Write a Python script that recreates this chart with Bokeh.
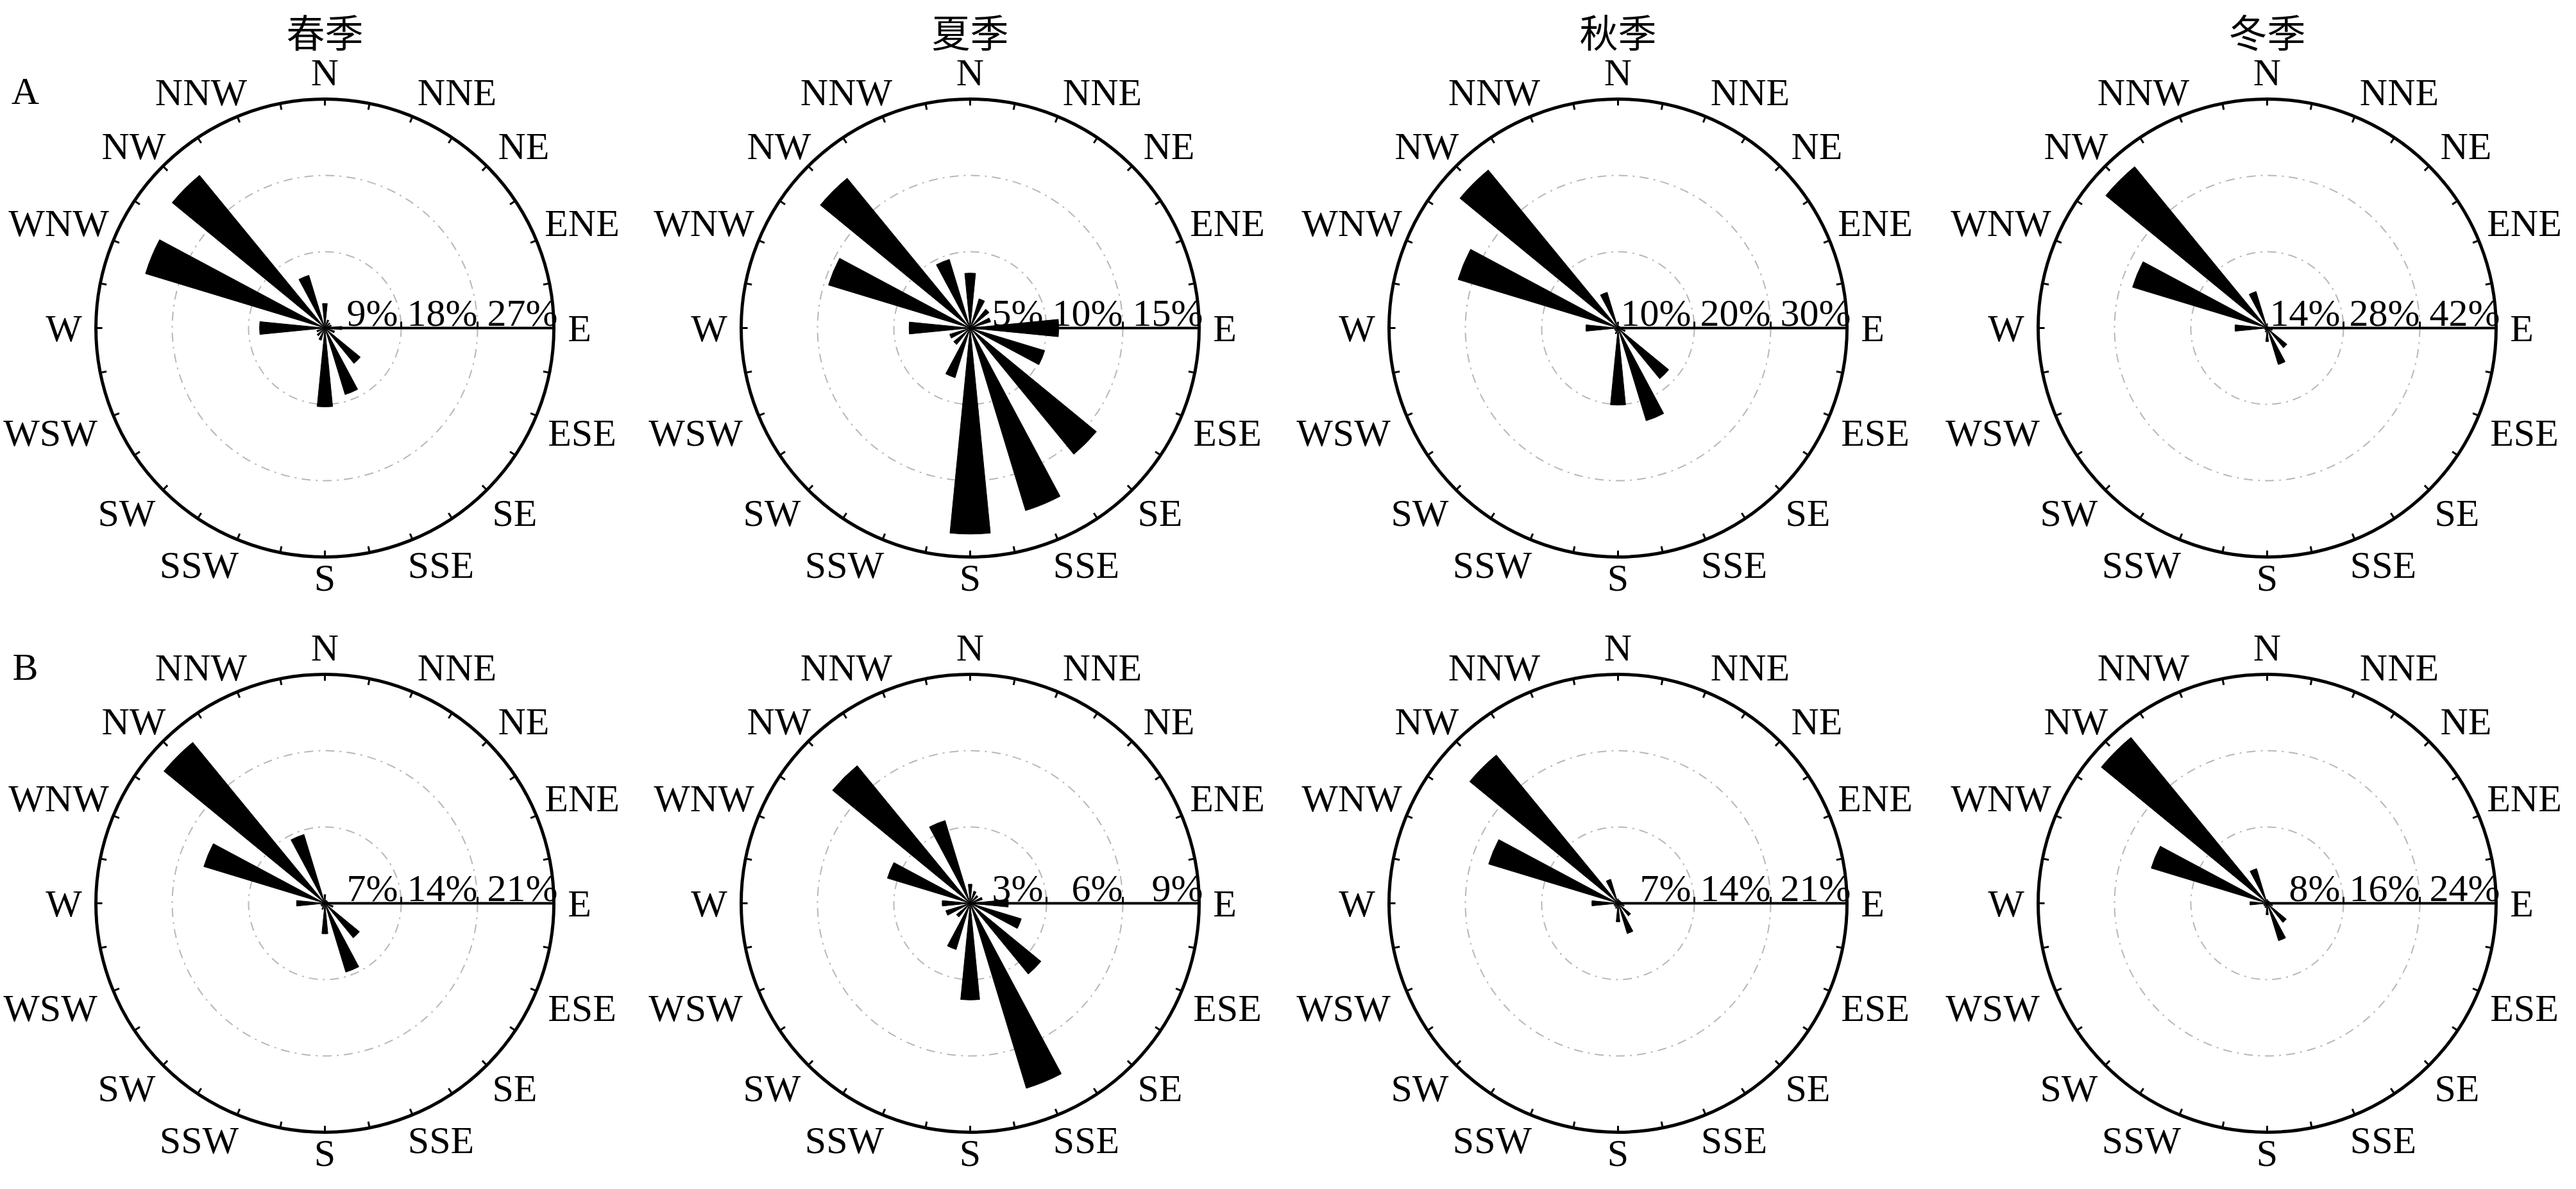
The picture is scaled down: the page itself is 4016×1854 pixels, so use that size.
import math
from bokeh.plotting import figure
from bokeh.models import Range1d
from bokeh.embed import file_html
from bokeh.resources import INLINE
from bokeh.core.properties import value

# ---------------- data ----------------
directions = ["N", "NNE", "NE", "ENE", "E", "ESE", "SE", "SSE",
              "S", "SSW", "SW", "WSW", "W", "WNW", "NW", "NNW"]
seasons = ["春季", "夏季", "秋季", "冬季"]
row_labels = ["A", "B"]

# frequency (%) per direction, order as in `directions`
a_spring = [2.9, 1.0, 0.8, 0.8, 2.0, 1.2, 5.4, 8.2, 9.3, 1.5, 1.2, 1.0, 7.7, 22.1, 23.3, 6.5]
a_summer = [3.6, 2.0, 1.6, 1.4, 5.8, 5.1, 10.7, 12.5, 13.5, 3.4, 1.4, 1.4, 4.0, 9.7, 12.7, 4.7]
a_autumn = [0.8, 0.3, 0.3, 0.3, 0.5, 1.0, 8.6, 12.7, 10.1, 0.8, 0.5, 0.5, 4.2, 21.9, 26.8, 4.9]
a_winter = [0.8, 0.3, 0.3, 0.3, 0.5, 1.0, 4.7, 7.0, 2.5, 0.8, 0.5, 0.5, 5.9, 25.8, 38.3, 7.0]
b_spring = [0.8, 0.3, 0.3, 0.3, 0.5, 0.8, 4.1, 6.6, 2.8, 0.6, 0.4, 0.4, 2.6, 11.6, 19.1, 6.6]
b_summer = [0.75, 0.5, 0.4, 0.5, 1.5, 2.1, 3.6, 7.6, 3.8, 1.9, 0.7, 1.0, 1.1, 3.4, 7.0, 3.4]
b_autumn = [0.4, 0.3, 0.3, 0.3, 0.4, 0.6, 1.5, 2.9, 1.7, 0.5, 0.4, 0.4, 2.4, 12.4, 17.6, 2.3]
b_winter = [0.4, 0.3, 0.3, 0.3, 0.4, 0.6, 2.6, 4.1, 1.2, 0.5, 0.4, 0.4, 1.8, 12.7, 22.5, 3.8]

a_spring_ticks = [9, 18, 27]
a_summer_ticks = [5, 10, 15]
a_autumn_ticks = [10, 20, 30]
a_winter_ticks = [14, 28, 42]
b_spring_ticks = [7, 14, 21]
b_summer_ticks = [3, 6, 9]
b_autumn_ticks = [7, 14, 21]
b_winter_ticks = [8, 16, 24]

series = [[a_spring, a_summer, a_autumn, a_winter],
          [b_spring, b_summer, b_autumn, b_winter]]
ticks_all = [[a_spring_ticks, a_summer_ticks, a_autumn_ticks, a_winter_ticks],
             [b_spring_ticks, b_summer_ticks, b_autumn_ticks, b_winter_ticks]]

# ---------------- layout (pixels of the page) ----------------
W, H = 4000, 1838
OX, OY = 8, 8                         # page margin
R = 357                               # outer circle radius, px
col_x = [514, 1520, 2530, 3542]       # panel centres (page px)
row_y = [519, 1416]
title_y = 55
rowlab_pos = [(47, 149), (47, 1047)]
# compass label centre offsets from panel centre, px (y up)
lab_dx = [0, 206, 310, 401, 397, 401, 296, 181, 0, -196, -309, -428, -407, -415, -298, -193]
lab_dy = [399, 368, 284, 164, 0, -163, -288, -369, -389, -369, -288, -163, 0, 164, 284, 368]
ring_lab_dx = [-5, 0, 6]

SERIF = value("Liberation Serif")
CJK = value("Noto Sans CJK SC")
FS = "60px"

p = figure(width=W, height=H, x_range=Range1d(0, W), y_range=Range1d(0, H),
           output_backend="svg", toolbar_location=None,
           x_axis_location=None, y_axis_location=None, min_border=0)
p.grid.grid_line_color = None
p.outline_line_color = None
p.background_fill_color = "white"
p.border_fill_color = "white"


def page_to_fig(x, y):
    return x - OX, H - (y - OY)


for r in range(2):
    for c in range(4):
        vals = series[r][c]
        ticks = ticks_all[r][c]
        rmax = ticks[-1]
        k = rmax / R
        fx, fy = page_to_fig(col_x[c], row_y[r])
        xn, yn = f"x{r}{c}", f"y{r}{c}"
        p.extra_x_ranges[xn] = Range1d(-fx * k, (W - fx) * k)
        p.extra_y_ranges[yn] = Range1d(-fy * k, (H - fy) * k)
        kw = dict(x_range_name=xn, y_range_name=yn)

        inner = ticks[:-1]
        p.circle(x=[0] * len(inner), y=[0] * len(inner), radius=inner,
                 fill_color=None, line_color="#b8b8b8", line_width=2,
                 line_dash="14 8 3 8", **kw)

        half = math.radians(22.5 / 4)
        ang = [math.radians(90 - i * 22.5) for i in range(16)]
        p.wedge(x=[0] * 16, y=[0] * 16, radius=vals,
                start_angle=[a - half for a in ang], end_angle=[a + half for a in ang],
                fill_color="black", line_color="black", line_width=1, **kw)

        p.segment(x0=[0], y0=[0], x1=[rmax], y1=[0], line_color="black",
                  line_width=4, **kw)
        p.segment(x0=inner, y0=[0] * len(inner), x1=inner, y1=[10 * k] * len(inner),
                  line_color="black", line_width=3, **kw)

        p.circle(x=[0], y=[0], radius=[rmax], fill_color=None,
                 line_color="black", line_width=5, **kw)

        ta = [math.radians(i * 11.25) for i in range(32)]
        p.segment(x0=[rmax * math.cos(a) for a in ta], y0=[rmax * math.sin(a) for a in ta],
                  x1=[(rmax - 10 * k) * math.cos(a) for a in ta],
                  y1=[(rmax - 10 * k) * math.sin(a) for a in ta],
                  line_color="black", line_width=3, **kw)

        p.text(x=[d * k for d in lab_dx], y=[d * k for d in lab_dy], text=directions,
               text_align="center", text_baseline="middle", text_font=SERIF,
               text_font_size=FS, text_color="black", **kw)

        p.text(x=[t + o * k for t, o in zip(ticks, ring_lab_dx)], y=[24 * k] * len(ticks),
               text=[f"{t}%" for t in ticks], text_align="right",
               text_baseline="alphabetic", text_font=SERIF, text_font_size=FS,
               text_color="black", **kw)

# season titles
tx, ty = zip(*[page_to_fig(x, title_y) for x in col_x])
p.text(x=list(tx), y=list(ty), text=seasons, text_align="center",
       text_baseline="middle", text_font=CJK, text_font_size="60px", text_color="black")

# row labels
rx, ry = zip(*[page_to_fig(x, y) for x, y in rowlab_pos])
p.text(x=list(rx), y=list(ry), text=row_labels, text_align="center",
       text_baseline="middle", text_font=SERIF, text_font_size=FS, text_color="black")

open("out.html", "w").write(file_html(p, INLINE))
